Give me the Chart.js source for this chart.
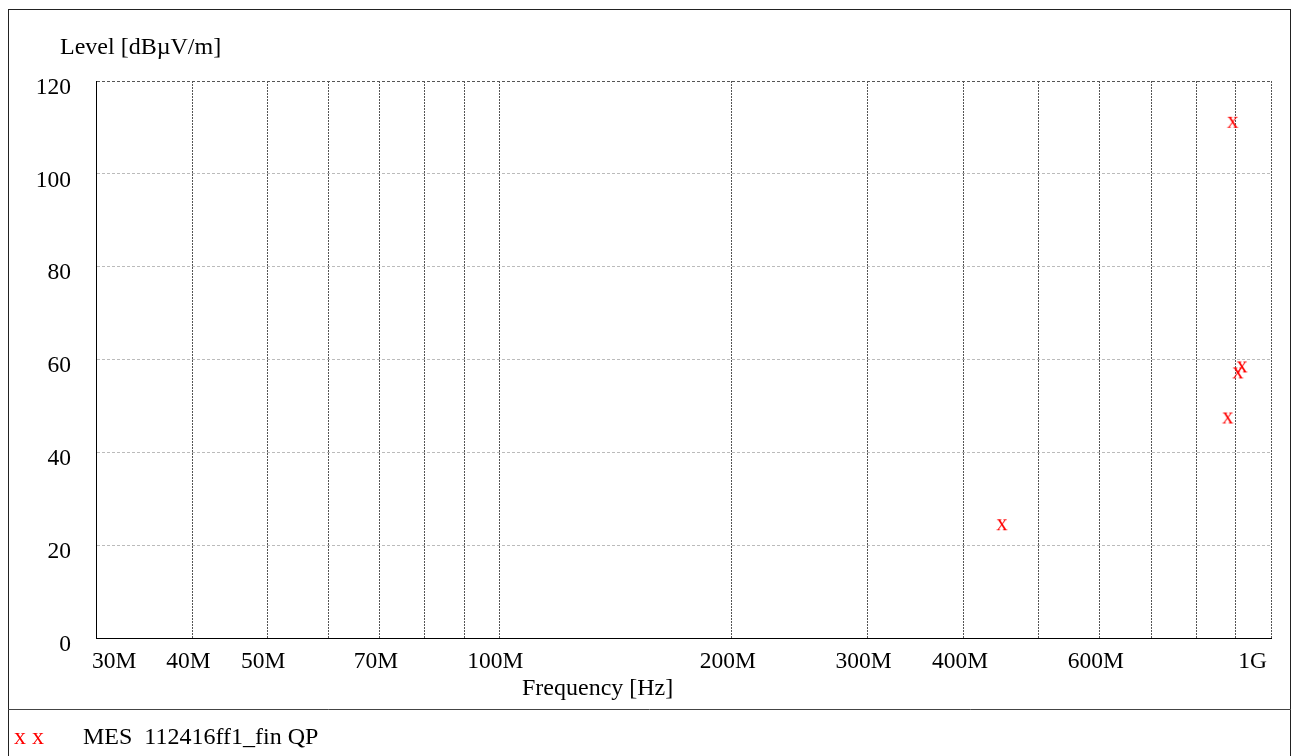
<!DOCTYPE html>
<html><head><meta charset="utf-8">
<script src="https://cdn.jsdelivr.net/npm/chart.js@4"></script>
<style>html,body{margin:0;padding:0;background:#fff;overflow:hidden}#wrap{position:relative;width:1298px;height:756px}</style>
</head><body><div id="wrap"><canvas id="c" width="1298" height="756"></canvas></div>
<script>
// ---- data ----
const freqHz = [448e6, 892e6, 917e6, 906e6, 879e6];
const levelDb = [24.3, 111.0, 58.3, 57.0, 47.3];
const xGridValues = [30e6,40e6,50e6,60e6,70e6,80e6,90e6,100e6,200e6,300e6,400e6,500e6,600e6,700e6,800e6,900e6,1e9];
const xLabelValues = [30e6,40e6,50e6,70e6,100e6,200e6,300e6,400e6,600e6,1e9];
const xLabelTexts = ['30M','40M','50M','70M','100M','200M','300M','400M','600M','1G'];
const yTickValues = [0,20,40,60,80,100,120];
const yTitle = 'Level [dBµV/m]';
const xTitle = 'Frequency [Hz]';
const seriesName = 'MES  112416ff1_fin QP';

const FONT = '"Liberation Serif", "Times New Roman", serif';

const cvs = document.getElementById('c');

// marker glyph "x"
const mk = document.createElement('canvas');
mk.width = 24; mk.height = 24;
(function(){const g = mk.getContext('2d'); g.font = '23px ' + FONT; g.fillStyle = '#ff0000'; g.textAlign = 'center'; g.textBaseline = 'alphabetic'; g.fillText('x', 12, 17.3);})();

const frame = {
  id: 'frame',
  beforeDraw(chart) {
    const c = chart.ctx;
    c.save();
    c.fillStyle = '#fff'; c.fillRect(0,0,chart.width,chart.height);
    c.strokeStyle = '#222'; c.lineWidth = 1;
    c.strokeRect(8.5, 9.5, 1282, 800);
    c.strokeStyle = '#444';
    c.beginPath(); c.moveTo(8, 709.5); c.lineTo(1291, 709.5); c.stroke();
    c.restore();
  },
  afterDraw(chart) {
    const c = chart.ctx;
    c.save();
    c.font = '24px ' + FONT;
    c.textBaseline = 'alphabetic';
    c.textAlign = 'left';
    c.fillStyle = '#000';
    c.fillText(yTitle, 60, 54);
    c.fillText(xTitle, 522, 695);
    c.fillText(seriesName, 83, 744);
    c.fillStyle = '#ff0000';
    c.fillText('x x', 14, 744);
    c.restore();
  }
};

new Chart(cvs, {
  type: 'scatter',
  data: { datasets: [{
    label: seriesName,
    data: freqHz.map((f,i)=>({x:f, y:levelDb[i]})),
    pointStyle: mk, pointRadius: 12, borderColor: '#f00', backgroundColor: '#f00', showLine: false
  }]},
  options: {
    responsive: false, animation: false, devicePixelRatio: 1,
    layout: { padding: { left: 0, top: 81, right: 27, bottom: 78 } },
    plugins: { legend: { display: false }, tooltip: { enabled: false }, title: { display: false } },
    scales: {
      x: {
        type: 'logarithmic', min: 30e6, max: 1e9,
        afterBuildTicks: s => { s.ticks = xGridValues.map(v => ({ value: v })); },
        afterFit: s => { s.height = 40; },
        ticks: {
          autoSkip: false, maxRotation: 0, minRotation: 0, align: 'inner', padding: 10, labelOffset: -4,
          color: '#000', font: { family: FONT, size: 23.5 },
          callback: (v) => { const i = xLabelValues.findIndex(q => Math.abs(q - v) < 1); return i >= 0 ? xLabelTexts[i] : ''; }
        },
        grid: { drawTicks: false, lineWidth: 1,
          color: ctx => (ctx.tick && Math.abs(ctx.tick.value - 30e6) < 1) ? 'rgba(0,0,0,0)' : '#555' },
        border: { display: true, color: '#000', width: 1, dash: [2, 1] }
      },
      y: {
        min: 0, max: 120,
        afterBuildTicks: s => { s.ticks = yTickValues.map(v => ({ value: v })); },
        afterFit: s => { s.width = 96; },
        ticks: { padding: 25, labelOffset: 6.5, color: '#000', font: { family: FONT, size: 23.5 } },
        grid: { drawTicks: false, lineWidth: 1,
          color: ctx => !ctx.tick ? '#bbb' : (ctx.tick.value === 0 ? 'rgba(0,0,0,0)' : (ctx.tick.value === 120 ? '#555' : '#bbb')) },
        border: { display: true, color: '#000', width: 1, dash: [3, 2] }
      }
    }
  },
  plugins: [frame]
});
</script></body></html>
